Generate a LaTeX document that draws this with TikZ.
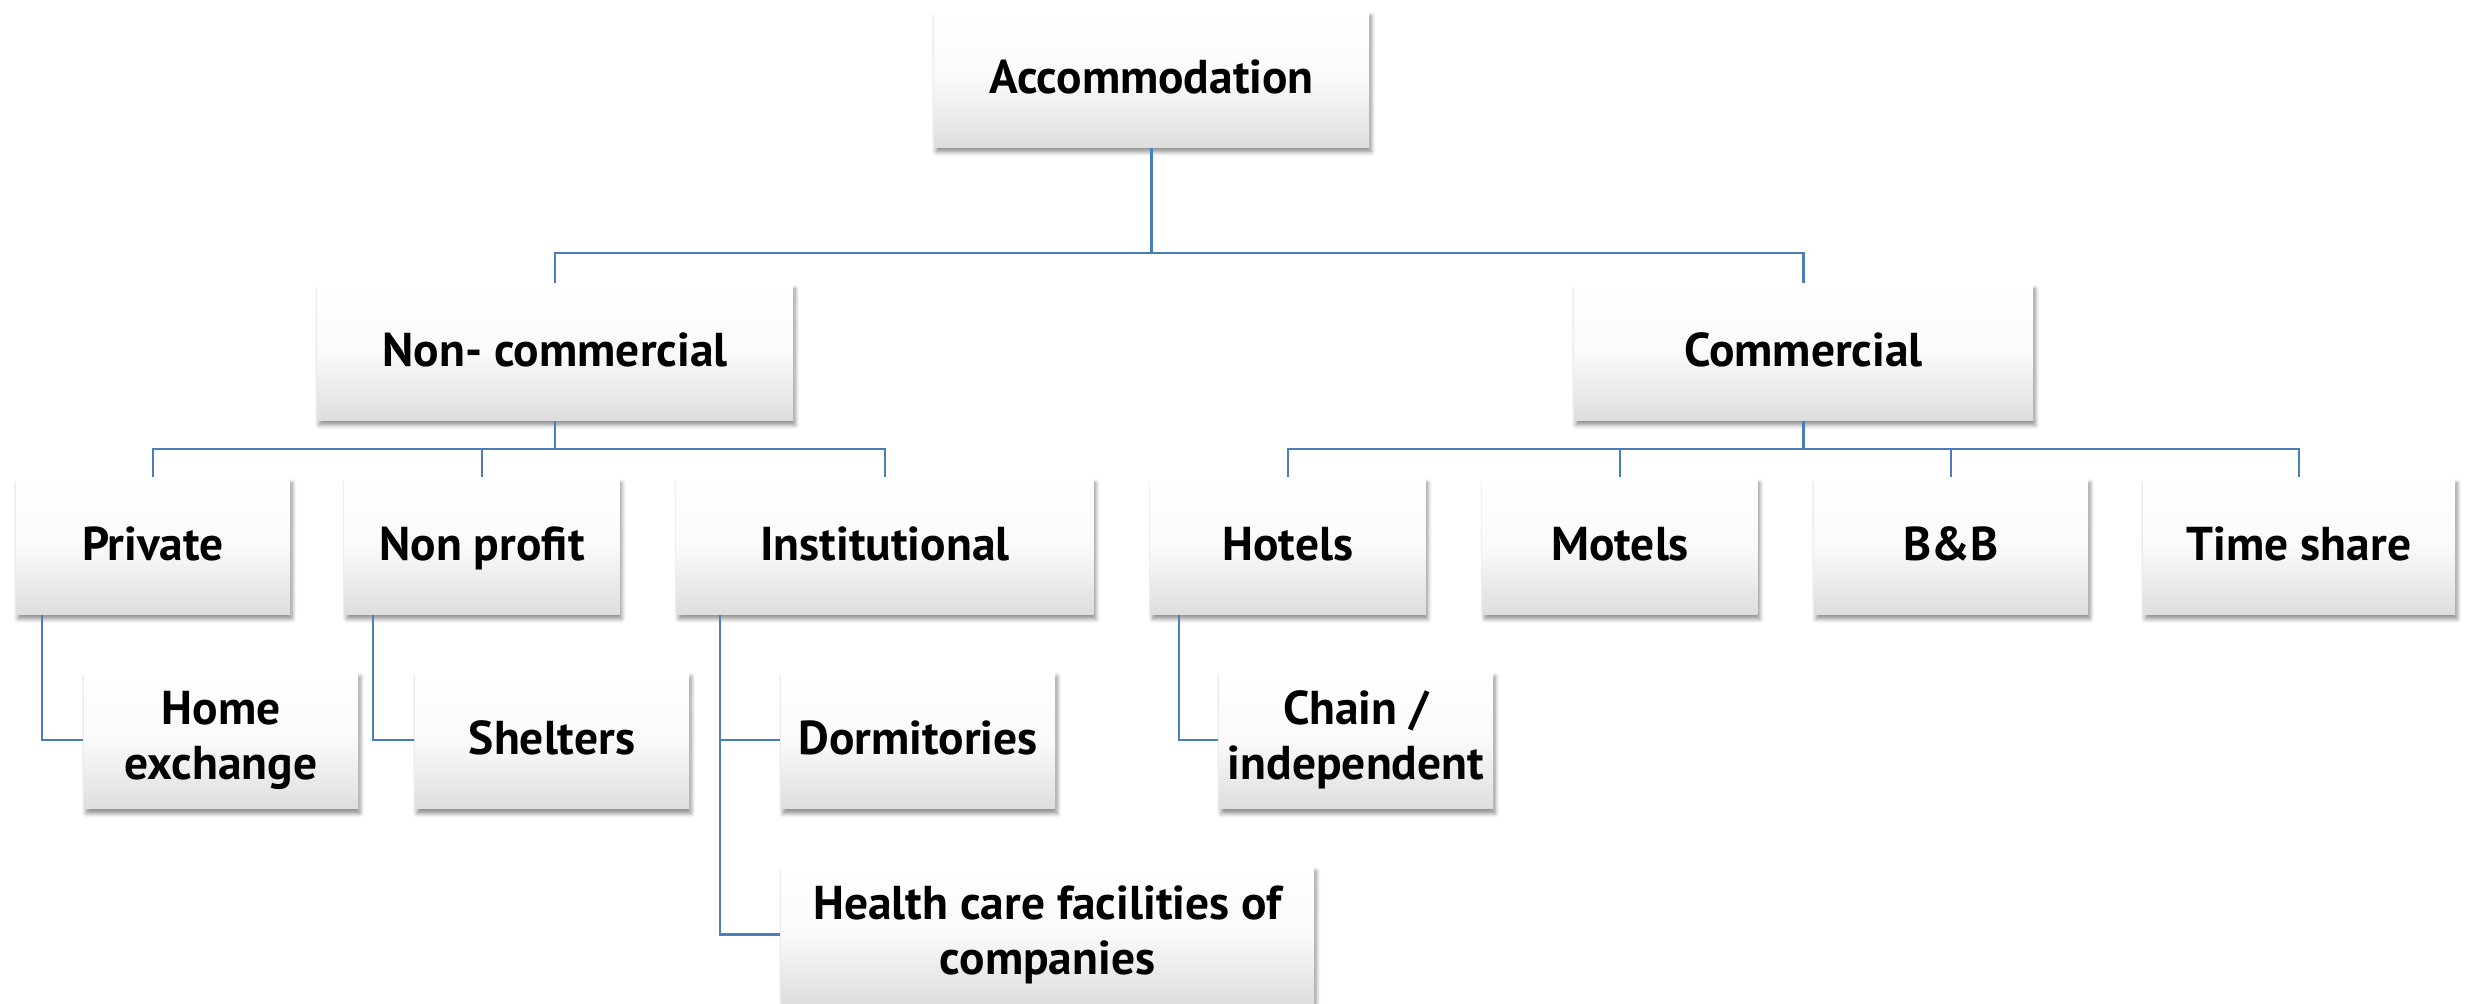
\documentclass[tikz,border=0pt]{standalone}
\usepackage{fontspec}
\setmainfont{PT Sans}
\usetikzlibrary{shadows.blur,calc}
\definecolor{linkblue}{RGB}{74,126,187}
\definecolor{boxgray}{RGB}{222,222,222}
\tikzset{
  box/.style={rectangle, inner sep=0pt, align=center,
    top color=white, bottom color=boxgray, middle color=white!85!boxgray,
    font=\fontsize{13.5}{15.6}\selectfont\bfseries,
    minimum height=136*0.01cm,
    blur shadow={shadow xshift=0.6pt, shadow yshift=-1.4pt, shadow blur steps=6,
      shadow blur radius=1.2pt, shadow opacity=45}},
  oneline/.style={text height=11pt, text depth=2.7pt},
  conn/.style={draw=linkblue, line width=0.6pt}
}
\begin{document}
\begin{tikzpicture}[x=0.01cm,y=-0.01cm]
\useasboundingbox (0,0) rectangle (2473,1003);
% level 1
\node[box, oneline, minimum width=435*0.01cm] (acc) at (1151.5,79) {Accommodation};
% level 2
\node[box, oneline, minimum width=476*0.01cm] (nc) at (555,352) {Non- commercial};
\node[box, oneline, minimum width=459*0.01cm] (com) at (1803.5,352) {Commercial};
% level 3
\node[box, oneline, minimum width=274*0.01cm] (pri) at (153,546) {Private};
\node[box, oneline, minimum width=275*0.01cm] (np) at (482,546) {Non profit};
\node[box, oneline, minimum width=417*0.01cm] (inst) at (885,546) {Institutional};
\node[box, oneline, minimum width=275*0.01cm] (hot) at (1288,546) {Hotels};
\node[box, oneline, minimum width=275*0.01cm] (mot) at (1620,546) {Motels};
\node[box, oneline, minimum width=274*0.01cm] (bb) at (1951,546) {B\&B};
\node[box, oneline, minimum width=312*0.01cm] (ts) at (2299,546) {Time share};
% level 4
\node[box, minimum width=274*0.01cm, minimum height=137*0.01cm] (home) at (221,740) {Home\\exchange};
\node[box, oneline, minimum width=274*0.01cm, minimum height=137*0.01cm] (shel) at (552,740) {Shelters};
\node[box, oneline, minimum width=274*0.01cm, minimum height=137*0.01cm] (dorm) at (918,740) {Dormitories};
\node[box, minimum width=274*0.01cm, minimum height=137*0.01cm] (chain) at (1356,740) {Chain /\\independent};
\node[box, minimum width=533*0.01cm, minimum height=137*0.01cm] (health) at (1047.5,934.5) {Health care facilities of\\companies};
% bus coordinates
\coordinate (bus1) at (0,253);
\coordinate (bus2) at (0,449);
% connectors
\draw[conn] (acc.south) -- (acc.south |- bus1) -| (nc.north);
\draw[conn] (acc.south |- bus1) -| (com.north);
\draw[conn] (nc.south) -- (nc.south |- bus2) -| (pri.north);
\draw[conn] (nc.south |- bus2) -| (np.north);
\draw[conn] (nc.south |- bus2) -| (inst.north);
\draw[conn] (com.south) -- (com.south |- bus2) -| (hot.north);
\draw[conn] (com.south |- bus2) -| (mot.north);
\draw[conn] (com.south |- bus2) -| (bb.north);
\draw[conn] (com.south |- bus2) -| (ts.north);
\draw[conn] ([xshift=27*0.01cm]pri.south west) |- (home.west);
\draw[conn] ([xshift=29*0.01cm]np.south west) |- (shel.west);
\draw[conn] ([xshift=44*0.01cm]inst.south west) |- (dorm.west);
\draw[conn] ([xshift=44*0.01cm]inst.south west) |- (health.west);
\draw[conn] ([xshift=29*0.01cm]hot.south west) |- (chain.west);
\end{tikzpicture}
\end{document}
